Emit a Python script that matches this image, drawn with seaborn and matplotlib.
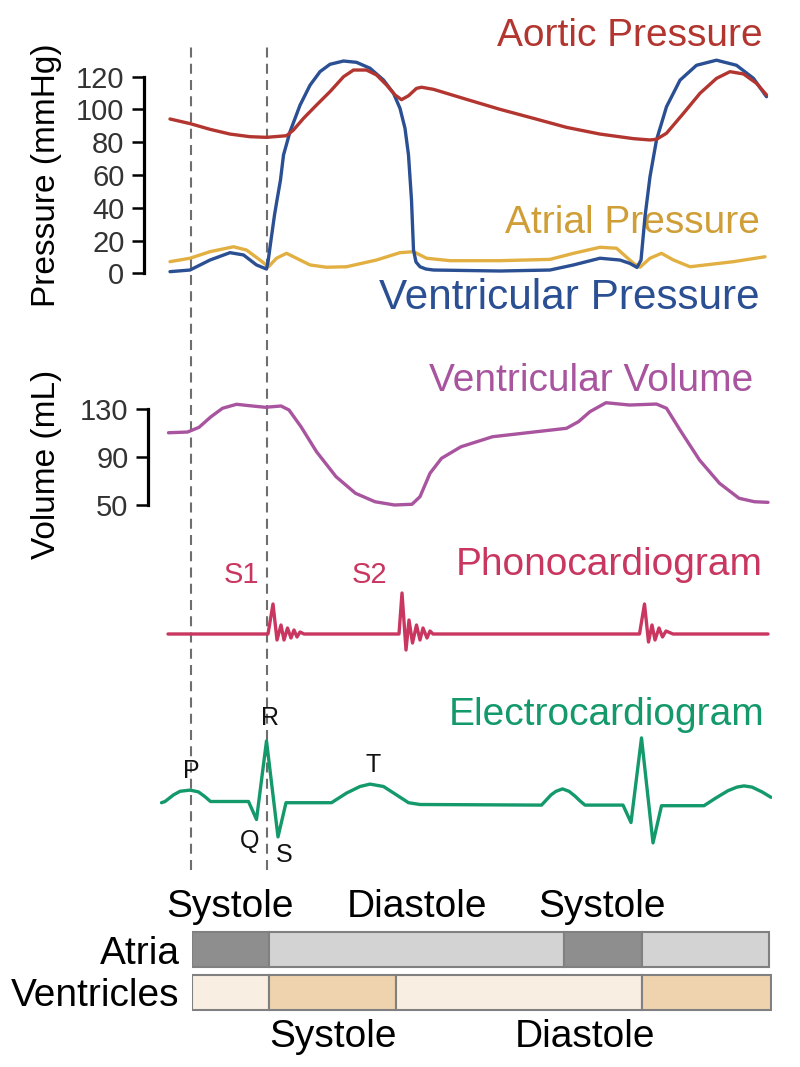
import matplotlib
matplotlib.use("Agg")
import matplotlib.pyplot as plt
import seaborn as sns

W, H = 800, 1067

# time axis: milliseconds from the left end of the traces
aortic_t = [4, 44, 84, 124, 164, 197, 237, 251, 271, 297, 324, 351, 371, 397, 417,
            437, 454, 467, 481, 497, 507, 531, 597, 664, 731, 797, 864, 931, 964, 977,
            997, 1031, 1064, 1097, 1124, 1151, 1177, 1197]
aortic_p = [94.2, 91.4, 87.9, 85.0, 83.4, 83.0, 84.0, 87.5, 94.6, 102.7, 110.9, 120.0,
            124.1, 124.1, 121.1, 115.0, 108.9, 106.0, 108.4, 112.9, 113.6, 112.3, 106.2,
            100.1, 94.6, 89.1, 85.0, 82.2, 81.4, 81.8, 85.5, 97.7, 109.9, 119.0, 123.1,
            121.7, 116.0, 108.9]

vent_t = [4, 44, 84, 124, 151, 177, 197, 200, 206, 213, 218, 225, 231, 244, 264, 284,
          304, 324, 351, 377, 404, 431, 451, 464, 474, 481, 487, 491, 496, 504, 516,
          531, 664, 764, 811, 864, 904, 924, 938, 946, 954, 964, 977, 997, 1024, 1057,
          1097, 1137, 1171, 1197]
vent_p = [1.0, 2.0, 8.1, 12.6, 11.2, 5.1, 2.6, 6.9, 20.3, 35.6, 44.7, 57.0, 72.2, 86.4,
          102.6, 114.8, 123.1, 127.6, 129.6, 128.8, 125.2, 118.0, 109.9, 100.7, 88.5,
          72.2, 44.7, 14.2, 6.9, 4.0, 2.6, 2.0, 1.4, 2.0, 5.1, 9.2, 8.1, 6.0, 3.6, 8.0,
          34.6, 59.0, 81.4, 101.7, 117.9, 127.0, 130.1, 127.0, 119.0, 107.8]

atrial_t = [4, 44, 84, 131, 157, 184, 201, 217, 237, 257, 284, 317, 357, 417, 464, 491,
            517, 564, 664, 764, 811, 864, 897, 931, 944, 964, 987, 1011, 1044, 1131, 1194]
atrial_p = [7.1, 9.2, 13.2, 16.2, 14.2, 8.1, 4.0, 9.2, 12.2, 9.2, 5.1, 3.7, 4.0, 8.1,
            12.6, 13.2, 9.2, 7.7, 7.7, 8.5, 12.2, 15.9, 15.3, 6.1, 3.7, 9.2, 12.2, 8.1,
            4.0, 7.1, 10.1]

volume_t = [1, 39, 62, 86, 109, 137, 164, 195, 226, 242, 266, 297, 336, 375, 414, 453,
            488, 504, 524, 547, 586, 649, 727, 797, 821, 844, 876, 923, 977, 997, 1024,
            1063, 1103, 1142, 1173, 1200]
volume_ml = [110.3, 110.9, 114.8, 123.6, 130.6, 133.9, 132.7, 131.4, 132.5, 129.2, 115.3,
             94.6, 73.9, 60.1, 53.1, 50.4, 51.0, 57.3, 76.7, 89.1, 98.7, 107.0, 110.7,
             114.0, 119.5, 127.8, 135.2, 133.3, 134.1, 130.6, 112.6, 87.7, 68.4, 56.0,
             53.1, 52.6]

phono_t = [0, 200, 210, 218, 226, 232, 239, 246, 252, 258, 264, 272,
           462, 468, 476, 482, 489, 497, 504, 510, 518, 524, 530,
           943, 953, 961, 968, 974, 982, 989, 996, 1010, 1200]
phono_a = [0, 0, 30, -6, 9, -6, 6, -4, 4, -3, 2, 0,
           0, 41, -16, 14, -9, 9, -6, 6, -4, 3, 0,
           0, 30, -8, 9, -6, 6, -3, 3, 0, 0]

ecg_t = [-13, -6, 11, 24, 44, 61, 74, 85, 161, 177, 197, 220, 236, 327, 357, 384, 404,
         431, 457, 481, 504, 747, 756, 766, 776, 789, 802, 814, 824, 834, 910, 926, 947,
         970, 987, 1072, 1096, 1120, 1138, 1152, 1168, 1188, 1206]
ecg_mv = [0.0, 0.02, 0.13, 0.19, 0.21, 0.18, 0.10, 0.02, 0.02, -0.28, 1.03, -0.57, 0.0,
          0.0, 0.16, 0.27, 0.31, 0.27, 0.13, 0.0, -0.03, -0.04, 0.04, 0.13, 0.19, 0.23,
          0.19, 0.11, 0.03, -0.04, -0.04, -0.33, 1.08, -0.67, -0.05, -0.05, 0.08, 0.20,
          0.26, 0.28, 0.26, 0.18, 0.09]
ecg_waves = ["P", "Q", "R", "S", "T"]
ecg_wave_t = [47, 164, 204, 232, 411]
ecg_wave_mv = [0.41, -0.75, 1.30, -0.98, 0.52]

sound_names = ["S1", "S2"]
sound_t = [146, 402]

pressure_ticks = [0, 20, 40, 60, 80, 100, 120]
volume_ticks = [50, 90, 130]
marker_t = [45, 198]

rows = ["Atria", "Ventricles"]
atria_start = [48, 202, 792, 948]
atria_end = [202, 792, 948, 1202]
atria_phase = ["Systole", "Diastole", "Systole", "Diastole"]
vent_start = [48, 202, 456, 948]
vent_end = [202, 456, 948, 1206]
vent_phase = ["Diastole", "Systole", "Diastole", "Systole"]
atria_labels = ["Systole", "Diastole", "Systole"]
atria_label_t = [124, 498, 868]
vent_labels = ["Systole", "Diastole"]
vent_label_t = [330, 834]

RED = "#b2352f"
GOLD = "#e2b042"
GOLD_TXT = "#cf9e36"
BLUE = "#2a4f93"
PURPLE = "#a8549e"
PINK = "#c93660"
GREEN = "#14996b"
PHASE_COL = {
    "Atria": {"Systole": "#8e8e8e", "Diastole": "#d3d3d3"},
    "Ventricles": {"Systole": "#efd3ae", "Diastole": "#f9eee2"},
}

sns.set_theme(style="white")
plt.rcParams["font.family"] = ["Liberation Sans", "DejaVu Sans"]

fig = plt.figure(figsize=(W / 100, H / 100), dpi=100)
XLIM = (-16, 1208)


def add_panel(top, bottom, left=160, right=772):
    ax = fig.add_axes([left / W, 1 - bottom / H, (right - left) / W, (bottom - top) / H])
    ax.set_facecolor("none")
    return ax


def ylim_from_pixels(ax, top, bottom, ref_px, ref_val, px_per_unit):
    ax.set_ylim(ref_val - (bottom - ref_px) / px_per_unit,
                ref_val + (ref_px - top) / px_per_unit)


def fig_text(ax, x, y, s, color, size=28, ha="right", zorder=1):
    ax.text(x / W, 1 - y / H, s, transform=fig.transFigure, color=color,
            fontsize=size, ha=ha, va="baseline", zorder=zorder)


def style_left_axis(ax, ticks, lo, hi, outward_px):
    for side in ["top", "right", "bottom"]:
        ax.spines[side].set_visible(False)
    ax.spines["left"].set_bounds(lo, hi)
    ax.spines["left"].set_position(("outward", outward_px * 0.72))
    ax.spines["left"].set_linewidth(2.3)
    ax.spines["left"].set_color("black")
    ax.set_yticks(ticks)
    ax.set_yticklabels([str(t) for t in ticks])
    ax.tick_params(axis="y", left=True, length=8.6, width=1.8, color="black",
                   pad=5.5, labelsize=21, labelcolor="#333333")
    ax.set_xticks([])
    ax.set_xlabel("")
    ax.set_ylabel("")


# background: dashed markers through all traces
ax_bg = add_panel(0, H)
ax_bg.set_xlim(XLIM)
ax_bg.set_ylim(0, 1)
ax_bg.axis("off")
for t in marker_t:
    ax_bg.axvline(t, ymin=1 - 870 / H, ymax=1 - 42 / H, color="#6e6e6e",
                  lw=1.5, ls=(0, (4.8, 3.0)))

# pressure
ax_p = add_panel(20, 300)
sns.lineplot(x=atrial_t, y=atrial_p, ax=ax_p, color=GOLD, lw=2.4, estimator=None)
sns.lineplot(x=vent_t, y=vent_p, ax=ax_p, color=BLUE, lw=2.4, estimator=None)
sns.lineplot(x=aortic_t, y=aortic_p, ax=ax_p, color=RED, lw=2.4, estimator=None)
ax_p.set_xlim(XLIM)
ylim_from_pixels(ax_p, 20, 300, 273.3, 0, 1.638)
style_left_axis(ax_p, pressure_ticks, 0, 120, 16)
fig_text(ax_p, 763, 46, "Aortic Pressure", RED)
fig_text(ax_p, 760, 233, "Atrial Pressure", GOLD_TXT)
fig_text(ax_p, 760, 309, "Ventricular Pressure", BLUE, size=30.4)
fig.text(47 / W, 1 - 175 / H, "Pressure (mmHg)", rotation=90, fontsize=24,
         ha="center", va="center", color="black")

# volume
ax_v = add_panel(360, 530)
sns.lineplot(x=volume_t, y=volume_ml, ax=ax_v, color=PURPLE, lw=2.4, estimator=None)
ax_v.set_xlim(XLIM)
ylim_from_pixels(ax_v, 360, 530, 409, 130, 1.206)
style_left_axis(ax_v, volume_ticks, 50, 130, 12)
fig_text(ax_v, 753, 391, "Ventricular Volume", PURPLE)
fig.text(47 / W, 1 - 464 / H, "Volume (mL)", rotation=90, fontsize=24,
         ha="center", va="center", color="black")

# phonocardiogram
ax_s = add_panel(560, 690)
sns.lineplot(x=phono_t, y=phono_a, ax=ax_s, color=PINK, lw=2.4, estimator=None)
ax_s.set_xlim(XLIM)
ylim_from_pixels(ax_s, 560, 690, 634, 0, 1.0)
ax_s.axis("off")
for name, t in zip(sound_names, sound_t):
    ax_s.text(t, 51.3, name, color=PINK, fontsize=21, ha="center", va="baseline")
fig_text(ax_s, 763, 575, "Phonocardiogram", PINK)

# electrocardiogram
ax_e = add_panel(690, 880)
sns.lineplot(x=ecg_t, y=ecg_mv, ax=ax_e, color=GREEN, lw=2.4, estimator=None)
ax_e.set_xlim(XLIM)
ylim_from_pixels(ax_e, 690, 880, 802.7, 0, 60.0)
ax_e.axis("off")
for name, t, v in zip(ecg_waves, ecg_wave_t, ecg_wave_mv):
    ax_e.text(t, v, name, color="#111111", fontsize=18, ha="center", va="baseline")
fig_text(ax_e, 764, 725, "Electrocardiogram", GREEN)

# phase bars
ax_b = add_panel(925, 1017, left=192)
for row, starts, ends, phases in [
    (0, atria_start, atria_end, atria_phase),
    (1, vent_start, vent_end, vent_phase),
]:
    name = rows[row]
    ax_b.barh([row] * len(starts), [e - s for s, e in zip(starts, ends)],
              left=starts, height=35 / 43,
              color=[PHASE_COL[name][p] for p in phases],
              edgecolor="#808080", linewidth=1.5)
ax_b.set_xlim(48, 1208)
ax_b.set_ylim((1017 - 949.5) / 43, (925 - 949.5) / 43)
ax_b.set_yticks([0, 1])
ax_b.set_yticklabels(rows, fontsize=28, color="black")
ax_b.tick_params(axis="y", length=0, pad=9)
ax_b.set_xticks([])
for side in ax_b.spines:
    ax_b.spines[side].set_visible(False)
for name, t in zip(atria_labels, atria_label_t):
    ax_b.text(t, (916.7 - 949.5) / 43, name, fontsize=28, ha="center",
              va="baseline", color="black")
for name, t in zip(vent_labels, vent_label_t):
    ax_b.text(t, (1046.7 - 949.5) / 43, name, fontsize=28, ha="center",
              va="baseline", color="black")

fig.savefig("out.png", dpi=100)
